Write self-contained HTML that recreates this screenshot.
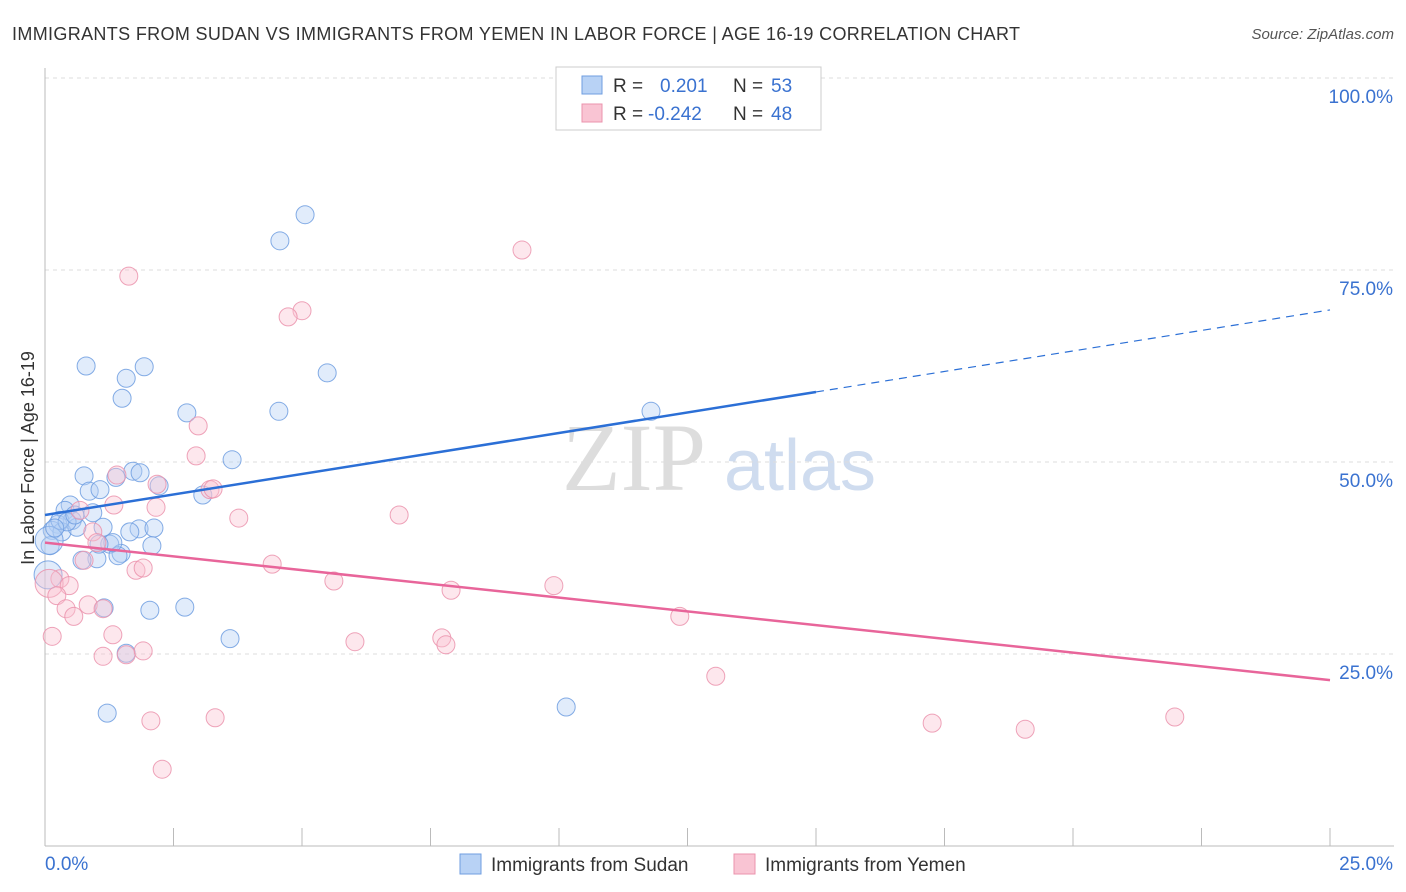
<!DOCTYPE html>
<html><head><meta charset="utf-8">
<style>
body{margin:0;background:#fff;font-family:"Liberation Sans",sans-serif;}
#c{position:relative;width:1406px;height:892px;overflow:hidden;}
</style></head><body>
<div id="c">
<svg id="s" width="1406" height="892" xmlns="http://www.w3.org/2000/svg">
<text x="12" y="40" font-size="18" fill="#333" textLength="1008" lengthAdjust="spacing">IMMIGRANTS FROM SUDAN VS IMMIGRANTS FROM YEMEN IN LABOR FORCE | AGE 16-19 CORRELATION CHART</text>
<text x="1394" y="39" font-size="15" fill="#555" font-style="italic" text-anchor="end">Source: ZipAtlas.com</text>
<text x="634" y="490" font-size="96" fill="#ddd" font-family="Liberation Serif" text-anchor="middle">ZIP</text>
<text x="800" y="490" font-size="72" fill="#cfdcef" text-anchor="middle">atlas</text>
<g id="grid"></g>
<g id="pts"></g>
<g id="lines"></g>
<text transform="translate(34,458) rotate(-90)" font-size="18" fill="#333" text-anchor="middle">In Labor Force | Age 16-19</text>
<g>
<rect x="556" y="67" width="265" height="63" fill="#fff" stroke="#ccc"/>
<rect x="582" y="76" width="20" height="18" fill="#b8d2f5" stroke="#6f9ee0"/>
<rect x="582" y="104" width="20" height="18" fill="#f9c4d3" stroke="#eb93ad"/>
<text x="613" y="92" font-size="19" fill="#333">R = </text><text x="660" y="92" font-size="19" fill="#3a72d0">0.201</text>
<text x="733" y="92" font-size="19" fill="#333">N = </text><text x="771" y="92" font-size="19" fill="#3a72d0">53</text>
<text x="613" y="120" font-size="19" fill="#333">R = </text><text x="648" y="120" font-size="19" fill="#3a72d0">-0.242</text>
<text x="733" y="120" font-size="19" fill="#333">N = </text><text x="771" y="120" font-size="19" fill="#3a72d0">48</text>
</g>
<g>
<rect x="460" y="854" width="21" height="20" fill="#b8d2f5" stroke="#6f9ee0"/>
<text x="491" y="871" font-size="19" fill="#333">Immigrants from Sudan</text>
<rect x="734" y="854" width="21" height="20" fill="#f9c4d3" stroke="#eb93ad"/>
<text x="765" y="871" font-size="19" fill="#333">Immigrants from Yemen</text>
</g>
</svg>
</div>
<script>
const blueX=[5.06,4.57,0.80,1.93,1.58,5.49,1.50,2.76,4.55,11.79,3.64,0.76,1.71,1.85,1.38,2.22,0.86,1.07,3.07,0.49,0.39,0.93,0.53,0.25,0.14,0.33,1.13,0.62,1.83,2.12,1.65,1.26,0.10,1.48,1.42,1.01,0.72,2.08,1.15,2.04,2.72,3.60,1.58,1.21,10.14,0.06,0.29,1.32,0.08,0.43,1.05,0.19,0.58];
const blueY=[82.2,78.8,62.5,62.4,60.9,61.6,58.3,56.4,56.6,56.6,50.3,48.2,48.8,48.6,48.0,46.9,46.2,46.4,45.7,44.4,43.7,43.4,42.4,41.9,41.1,40.9,41.5,41.5,41.3,41.4,40.9,39.3,39.1,38.1,37.8,37.4,37.2,39.1,31.0,30.7,31.1,27.0,25.1,17.3,18.1,35.3,42.4,39.5,39.8,42.2,39.3,41.4,43.1];
const pinkX=[9.28,1.63,5.00,4.73,2.98,2.94,3.21,3.27,1.40,2.18,2.16,1.34,3.77,6.89,0.68,0.93,1.01,0.76,4.42,1.77,1.91,5.62,9.90,7.90,0.29,0.08,0.47,0.23,0.41,0.84,0.56,1.13,12.35,1.32,0.14,6.03,7.72,7.80,1.13,1.58,1.91,13.05,2.06,3.31,17.26,19.07,21.98,2.28];
const pinkY=[77.6,74.2,69.7,68.9,54.7,50.8,46.4,46.5,48.3,47.1,44.1,44.4,42.7,43.1,43.7,40.9,39.5,37.2,36.7,35.9,36.2,34.5,33.9,33.3,34.8,34.2,33.9,32.6,30.9,31.4,29.9,30.9,29.9,27.5,27.3,26.6,27.1,26.2,24.7,24.9,25.4,22.1,16.3,16.7,16.0,15.2,16.8,10.0];
const blueTrend=[43.1,69.8]; const blueSolidEnd=15;
const pinkTrend=[39.5,21.6];
const yTicks=[25,50,75,100];
const yTickLabels=["25.0%","50.0%","75.0%","100.0%"];
const xTicks=[0,2.5,5,7.5,10,12.5,15,17.5,20,22.5,25];
const xs=v=>45+v/25*1285, ys=v=>846-v*7.68;
const NS="http://www.w3.org/2000/svg";
function mk(p,t,a){const e=document.createElementNS(NS,t);for(const k in a)e.setAttribute(k,a[k]);p.appendChild(e);return e;}
const g=document.getElementById('grid'),P=document.getElementById('pts'),L=document.getElementById('lines');
yTicks.forEach((v,i)=>{
 const l=mk(g,'line',{x1:45,x2:1394,y1:ys(v),y2:ys(v),stroke:'#ddd','stroke-dasharray':'4,4'});
 
 
 const t=mk(g,'text',{x:1393,y:ys(v)+25,'font-size':19,fill:'#3a72d0','text-anchor':'end'});t.textContent=yTickLabels[i];
 
 
});
mk(g,'line',{x1:45,x2:45,y1:68,y2:846,stroke:'#bbb'});
mk(g,'line',{x1:45,x2:1394,y1:846,y2:846,stroke:'#bbb'});
xTicks.forEach(v=>{const l=mk(g,'line',{x1:xs(v),x2:xs(v),y1:828,y2:846,stroke:'#bbb'});
 
 });
const t0=mk(g,'text',{x:45,y:870,'font-size':19,fill:'#3a72d0'});t0.textContent='0.0%';


const t1=mk(g,'text',{x:1393,y:870,'font-size':19,fill:'#3a72d0','text-anchor':'end'});t1.textContent='25.0%';


function dots(X,Y,f,s,n){X.forEach((x,i)=>{const c=mk(P,'circle',{cx:xs(x),cy:ys(Y[i]),r:(x<0.1?14:9),fill:f,'fill-opacity':0.4,stroke:s,'stroke-opacity':0.85,'stroke-width':1});
 
 });}
dots(blueX,blueY,'#b3cff4','#6f9ee0','sudan-point');
dots(pinkX,pinkY,'#f9c4d3','#eb93ad','yemen-point');
const bAt=x=>blueTrend[0]+(blueTrend[1]-blueTrend[0])*x/25;
const b1=mk(L,'line',{x1:xs(0),y1:ys(bAt(0)),x2:xs(blueSolidEnd),y2:ys(bAt(blueSolidEnd)),stroke:'#2b6fd6','stroke-width':2.5});


const b2=mk(L,'line',{x1:xs(blueSolidEnd),y1:ys(bAt(blueSolidEnd)),x2:xs(25),y2:ys(bAt(25)),stroke:'#2b6fd6','stroke-width':1.2,'stroke-dasharray':'8,6'});


const p1=mk(L,'line',{x1:xs(0),y1:ys(pinkTrend[0]),x2:xs(25),y2:ys(pinkTrend[1]),stroke:'#e8659a','stroke-width':2.5});


</script>
</body></html>
